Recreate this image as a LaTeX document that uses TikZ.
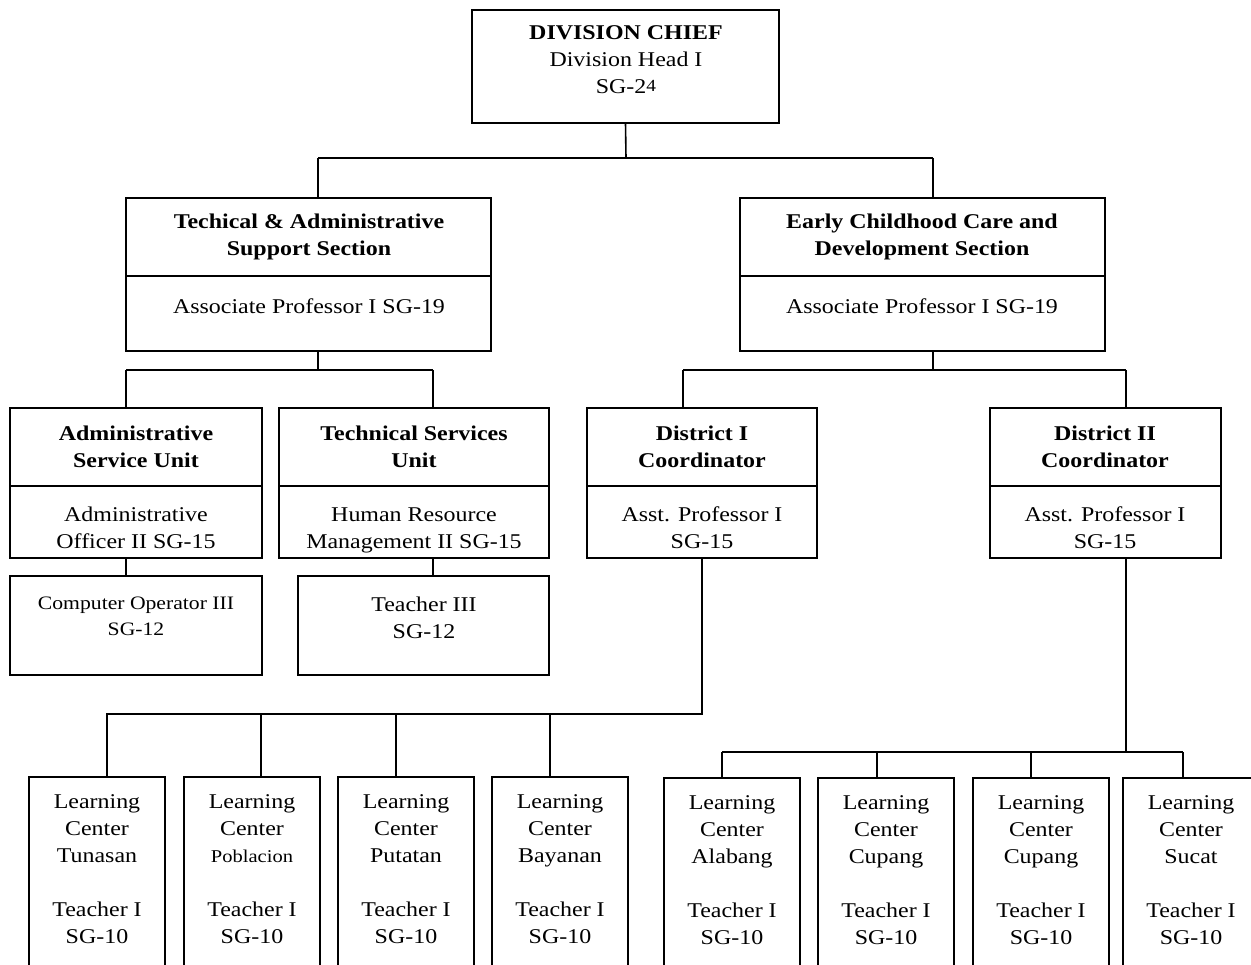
\documentclass[tikz,border=0pt]{standalone}
\usepackage{fontspec}
\setmainfont[FakeStretch=1.14]{Liberation Serif}
\begin{document}
\begin{tikzpicture}[x=1pt,y=-1pt,line width=1.6pt,
  box/.style={draw,rectangle,inner sep=0pt,outer sep=0pt},
  txt/.style={align=center,inner sep=0pt,font=\fontsize{21}{27}\selectfont},
  btxt/.style={align=center,inner sep=0pt,font=\bfseries\fontsize{21}{27}\selectfont},
  link/.style={line width=1.6pt}]
\clip (0,0) rectangle (1251,965);
\fill[white] (0,0) rectangle (1251,965);

% top
\node[box,minimum width=307,minimum height=113] (chief) at (625.5,66.5) {};
\node[txt] (chieft) at (626,60) {\textbf{DIVISION CHIEF}\\Division Head I\\SG-2{\fontsize{17}{27}\selectfont\raisebox{2pt}{4}}};

% sections
\node[box,minimum width=365,minimum height=78] (lsh) at (308.5,237) {};
\node[box,minimum width=365,minimum height=75] (lss) at (308.5,313.5) {};
\node[btxt] (lsht) at (309,237) {Techical \& Administrative\\Support Section};
\node[txt] (lsst) at (309,306) {Associate Professor I SG-19};

\node[box,minimum width=365,minimum height=78] (rsh) at (922.5,237) {};
\node[box,minimum width=365,minimum height=75] (rss) at (922.5,313.5) {};
\node[btxt] (rsht) at (922,237) {Early Childhood Care and\\Development Section};
\node[txt] (rsst) at (922,306) {Associate Professor I SG-19};

% units
\node[box,minimum width=252,minimum height=78] (ash) at (136,447) {};
\node[box,minimum width=252,minimum height=72] (ass) at (136,522) {};
\node[btxt] (asht) at (136,447) {Administrative\\Service Unit};
\node[txt] (asst) at (136,527.5) {Administrative\\Officer II SG-15};

\node[box,minimum width=270,minimum height=78] (tsh) at (414,447) {};
\node[box,minimum width=270,minimum height=72] (tss) at (414,522) {};
\node[btxt] (tsht) at (414,447) {Technical Services\\Unit};
\node[txt] (tsst) at (414,530.5) {Human Resource\\Management II SG-15};

\node[box,minimum width=230,minimum height=78] (d1h) at (702,447) {};
\node[box,minimum width=230,minimum height=72] (d1s) at (702,522) {};
\node[btxt] (d1ht) at (702,447) {District I\\Coordinator};
\node[txt] (d1st) at (702,527.5) {Asst. Professor I\\SG-15};

\node[box,minimum width=231,minimum height=78] (d2h) at (1105.5,447) {};
\node[box,minimum width=231,minimum height=72] (d2s) at (1105.5,522) {};
\node[btxt] (d2ht) at (1105,447) {District II\\Coordinator};
\node[txt] (d2st) at (1105,527.5) {Asst. Professor I\\SG-15};

% sub boxes
\node[box,minimum width=252,minimum height=99] (comp) at (136,625.5) {};
\node[txt,font=\fontsize{19}{26}\selectfont] (compt) at (136,616) {Computer Operator III\\SG-12};
\node[box,minimum width=251,minimum height=99] (t3) at (423.5,625.5) {};
\node[txt] (t3t) at (424,618) {Teacher III\\SG-12};

% learning centers
\foreach \n/\cx/\cy/\place in {tun/97/888.5/Tunasan, put/406/888.5/Putatan, bay/560/888.5/Bayanan,
  ala/732/889.5/Alabang, cu1/886/889.5/Cupang, cu2/1041/889.5/Cupang, suc/1191/889.5/Sucat}{
  \node[box,minimum width=136,minimum height=223] (\n) at (\cx,\cy) {};
  \node[txt] (\n t) at (\cx,\cy-19) {Learning\\Center\\\place\\[27pt]Teacher I\\SG-10};
}
\node[box,minimum width=136,minimum height=223] (pob) at (252,888.5) {};
\node[txt] (pobt) at (252,869.5) {Learning\\Center\\{\fontsize{18}{27}\selectfont Poblacion}\\[27pt]Teacher I\\SG-10};

% connectors
\draw[link] (chief.south) -- (626,158) coordinate (j1);
\draw[link] (318,158) -- (933,158);
\draw[link] (318,158) -- (318,198);
\draw[link] (933,158) -- (933,198);

\draw[link] (318,351) -- (318,370);
\draw[link] (126,370) -- (433,370);
\draw[link] (126,370) -- (126,408);
\draw[link] (433,370) -- (433,408);

\draw[link] (933,351) -- (933,370);
\draw[link] (683,370) -- (1126,370);
\draw[link] (683,370) -- (683,408);
\draw[link] (1126,370) -- (1126,408);

\draw[link] (126,558) -- (126,576);
\draw[link] (433,558) -- (433,576);

\draw[link] (702,558) -- (702,714) -- (107,714) -- (107,777);
\draw[link] (261,714) -- (261,777);
\draw[link] (396,714) -- (396,777);
\draw[link] (550,714) -- (550,777);

\draw[link] (1126,558) -- (1126,752);
\draw[link] (722,752) -- (1183,752);
\draw[link] (722,752) -- (722,779);
\draw[link] (877,752) -- (877,779);
\draw[link] (1031,752) -- (1031,779);
\draw[link] (1183,752) -- (1183,779);
\end{tikzpicture}
\end{document}
